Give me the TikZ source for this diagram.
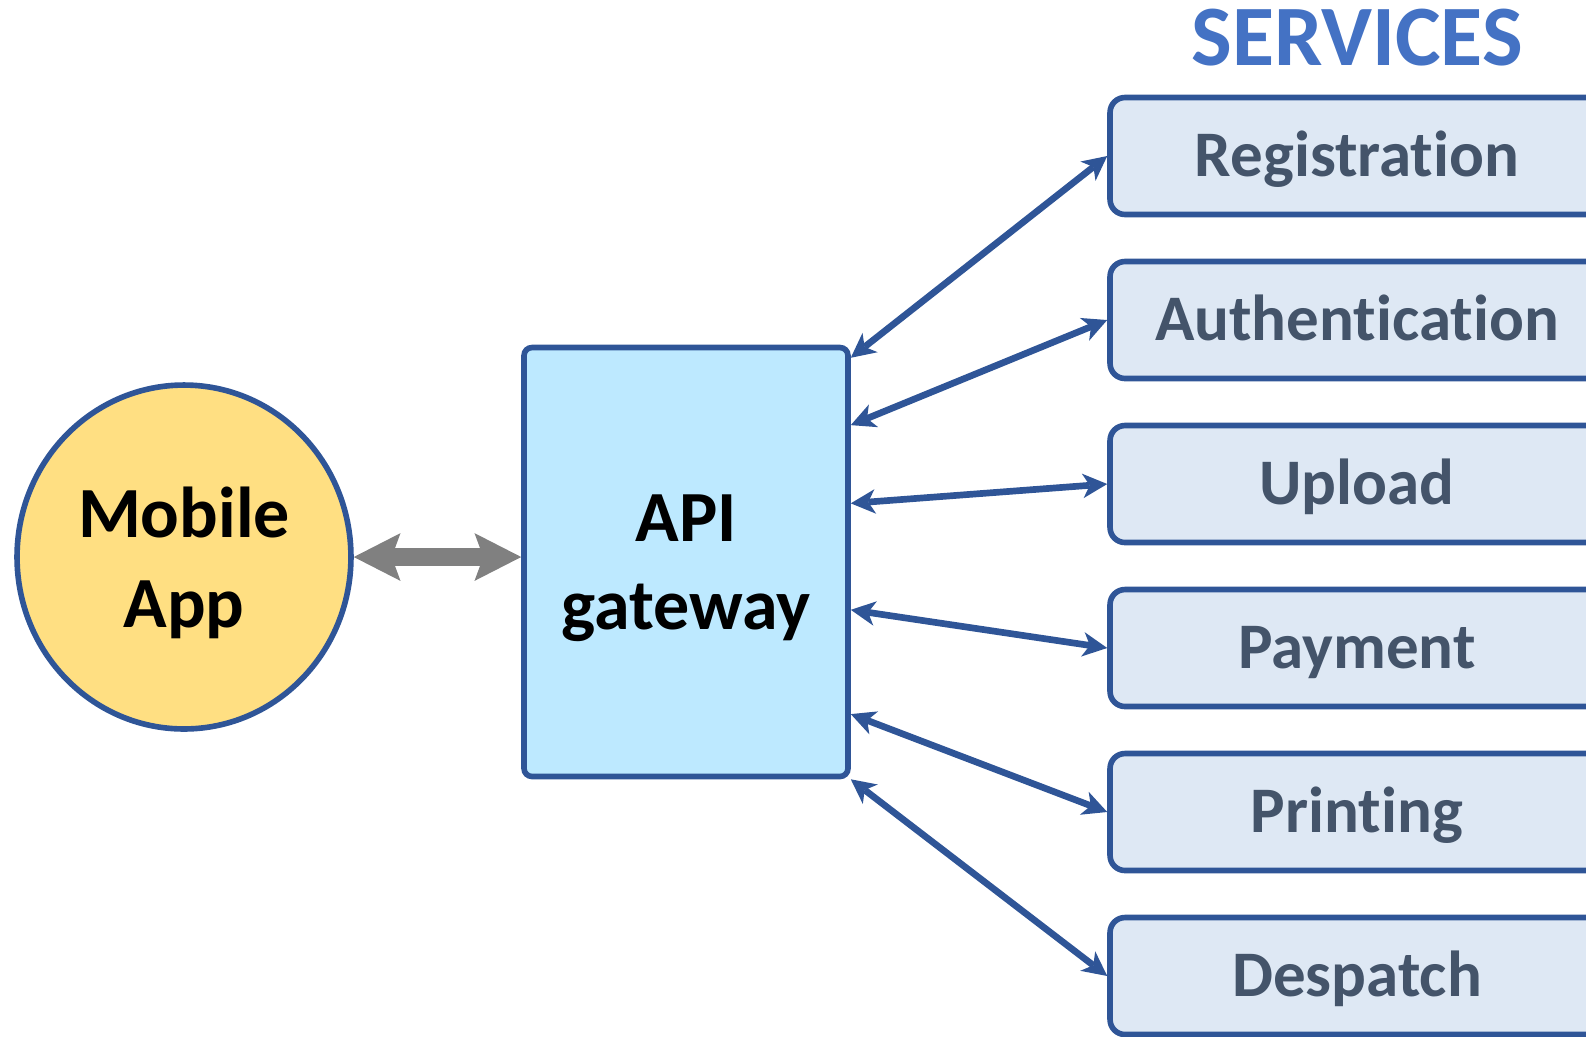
\documentclass[tikz,border=0pt]{standalone}
\usepackage{fontspec}
\setmainfont{Carlito}[Ligatures=NoCommon]
\usepackage{tikz}
\usetikzlibrary{arrows.meta,calc,positioning,shapes.geometric}
\definecolor{edge}{HTML}{2F5597}
\definecolor{headblue}{HTML}{4472C4}
\definecolor{slate}{HTML}{44546A}
\definecolor{mist}{HTML}{DEE8F4}
\definecolor{sky}{HTML}{BDE9FF}
\definecolor{butter}{HTML}{FFDF82}
\definecolor{pipegray}{HTML}{808080}
\tikzset{
  >={Stealth[length=14pt,width=14pt,inset=4pt,line width=0pt]},
  app/.style={ellipse,draw=edge,line width=3.2pt,fill=butter,minimum width=6.68cm,minimum height=6.88cm,
    align=center,text depth=0pt,font=\bfseries\fontsize{41}{51}\selectfont},
  gate/.style={rectangle,rounded corners=4.5pt,draw=edge,line width=3.2pt,fill=sky,minimum width=6.48cm,
    minimum height=8.58cm,align=center,text depth=0pt,font=\bfseries\fontsize{41}{50}\selectfont},
  svc/.style={rectangle,rounded corners=8.5pt,draw=edge,line width=3.2pt,fill=mist,text=slate,
    minimum width=9.88cm,minimum height=2.34cm,text height=23.4pt,text depth=0pt,
    font=\bfseries\fontsize{37}{44}\selectfont},
  head/.style={text=headblue,font=\bfseries\fontsize{49}{58}\selectfont,inner sep=0pt},
  link/.style={<->,draw=edge,line width=3.8pt},
  pipe/.style={{Stealth[length=26.6pt,width=27.2pt,inset=5pt,line width=0pt]}-{Stealth[length=26.6pt,width=27.2pt,inset=5pt,line width=0pt]},
    draw=pipegray,line width=10.2pt},
}
\begin{document}
\begin{tikzpicture}[x=0.02cm,y=-0.02cm]
  \useasboundingbox (0,0) rectangle (1586,1036);
  \node[app] (app) at (184,557) {Mobile\\App};
  \node[gate] (api) at (686,562) {API\\gateway};
  \draw[pipe] (app.east) -- (app.east -| api.west);
  \node[head] (title) at (1357,38) {SERVICES};
  % services and their links to the gateway
  \foreach \nm/\txt/\f [count=\i] in {reg/Registration/0.03, auth/Authentication/0.185, upl/Upload/0.365,
      pay/Payment/0.61, prn/Printing/0.85, dsp/Despatch/1}{
    \node[svc] (\nm) at (1357,{156+164*(\i-1)}) {\txt};
    \coordinate (g\nm) at ($(api.north east)!\f!(api.south east)$);
    \draw[link] (g\nm) -- (\nm.west);
  }
\end{tikzpicture}
\end{document}
